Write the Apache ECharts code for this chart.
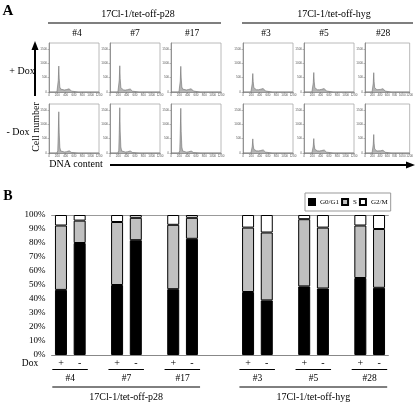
<!DOCTYPE html>
<html><head><meta charset="utf-8">
<script src="https://cdn.jsdelivr.net/npm/echarts@6/dist/echarts.min.js"></script>
<style>html,body{margin:0;padding:0;background:#fff}#c{width:416px;height:403px}</style>
</head><body><div id="c"></div>
<script>
// ---------- Data ----------
const groups = ['17Cl-1/tet-off-p28', '17Cl-1/tet-off-hyg'];
const clones = ['#4', '#7', '#17', '#3', '#5', '#28'];
const doxLabels = ['+', '-'];
const phases = ['G0/G1', 'S', 'G2/M'];
// per bar: order #4+, #4-, #7+, #7-, ... (percent)
const g0g1 = [46.5, 80, 50, 82, 47, 83, 45, 39, 49, 47.5, 55, 48];
const sPhase = [46, 16, 45, 16, 46, 15, 46, 48.5, 48, 43.5, 37.5, 42];
const g2m = [7.5, 4, 5, 2, 7, 2, 9, 12.5, 3, 9, 7.5, 10];
const yTicksB = [0, 10, 20, 30, 40, 50, 60, 70, 80, 90, 100];

// DNA content histograms (channel vs cell count)
const channel = [0, 190, 210, 222, 235, 245, 260, 280, 320, 370, 420, 445, 465, 485, 510, 540, 580, 700, 1200];
const plus4  = [0, 0, 60, 400, 900, 480, 170, 100, 75, 70, 85, 120, 130, 110, 70, 30, 8, 0, 0];
const plus7  = [0, 0, 55, 420, 910, 470, 160, 95, 72, 68, 82, 115, 125, 105, 65, 28, 6, 0, 0];
const plus17 = [0, 0, 50, 380, 890, 490, 175, 100, 78, 72, 88, 122, 128, 112, 72, 32, 9, 0, 0];
const plus3  = [0, 0, 45, 300, 640, 360, 150, 100, 82, 78, 95, 130, 135, 120, 80, 35, 10, 0, 0];
const plus5  = [0, 0, 50, 320, 675, 370, 150, 100, 80, 76, 92, 128, 138, 118, 78, 34, 10, 0, 0];
const plus28 = [0, 0, 48, 310, 670, 365, 148, 98, 80, 75, 90, 125, 132, 115, 75, 32, 9, 0, 0];
const minus4  = [0, 0, 80, 650, 1430, 700, 200, 70, 40, 35, 45, 70, 85, 75, 45, 20, 5, 0, 0];
const minus7  = [0, 0, 90, 700, 1570, 760, 210, 72, 38, 32, 42, 68, 82, 72, 42, 18, 5, 0, 0];
const minus17 = [0, 0, 85, 690, 1550, 740, 205, 70, 36, 30, 40, 62, 75, 68, 40, 16, 4, 0, 0];
const minus3  = [0, 0, 40, 230, 490, 280, 130, 90, 75, 72, 85, 115, 125, 108, 70, 30, 8, 0, 0];
const minus5  = [0, 0, 40, 240, 500, 285, 130, 90, 74, 70, 84, 112, 120, 105, 68, 30, 8, 0, 0];
const minus28 = [0, 0, 45, 300, 640, 340, 140, 88, 70, 66, 78, 102, 110, 98, 62, 26, 7, 0, 0];
const histX = [0, 200, 400, 600, 800, 1000, 1200];
const histY = [0, 500, 1000, 1500];

// ---------- Build ----------
const FONT = '"Liberation Serif", "Times New Roman", serif';
const chart = echarts.init(document.getElementById('c'), null, {renderer: 'canvas'});

// bar slots with gaps between clones and groups
const slots = [], slotBar = [];
let bi = 0;
clones.forEach((c, ci) => {
  doxLabels.forEach(d => { slots.push(d); slotBar.push(bi++); });
  if (ci < clones.length - 1) { slots.push(''); slotBar.push(-1); }
  if (ci === 2) { slots.push(' '); slotBar.push(-1); }
});
const mk = arr => slotBar.map(b => b < 0 ? '-' : arr[b]);

const grids = [{left: 51.6, top: 215, width: 336.8, height: 140}];
const xAxes = [
  {gridIndex: 0, type: 'category', data: slots, position: 'bottom',
   axisLine: {lineStyle: {color: '#888', width: 1}}, axisTick: {show: false},
   axisLabel: {interval: 0, fontFamily: FONT, fontSize: 10, color: '#000', margin: 3}},
  {gridIndex: 0, type: 'category', data: slots, position: 'top',
   axisLine: {lineStyle: {color: '#999', width: 1}}, axisTick: {show: false}, axisLabel: {show: false}}
];
const yAxes = [
  {gridIndex: 0, type: 'value', min: yTicksB[0], max: yTicksB[yTicksB.length - 1], interval: 10,
   axisLine: {show: false}, axisTick: {show: false}, splitLine: {show: false},
   axisLabel: {formatter: '{value}%', fontFamily: FONT, fontSize: 9, color: '#000', margin: 6}}
];
const series = [
  {name: phases[0], type: 'bar', stack: 'p', data: mk(g0g1), barWidth: 12, xAxisIndex: 0, yAxisIndex: 0,
   itemStyle: {color: '#000', borderColor: '#000', borderWidth: 1}},
  {name: phases[1], type: 'bar', stack: 'p', data: mk(sPhase), barWidth: 12, xAxisIndex: 0, yAxisIndex: 0,
   itemStyle: {color: '#c0c0c0', borderColor: '#000', borderWidth: 1}},
  {name: phases[2], type: 'bar', stack: 'p', data: mk(g2m), barWidth: 12, xAxisIndex: 0, yAxisIndex: 0,
   itemStyle: {color: '#fff', borderColor: '#000', borderWidth: 1}}
];

const histRows = [[plus4, plus7, plus17, plus3, plus5, plus28], [minus4, minus7, minus17, minus3, minus5, minus28]];
const colLeft = [49, 110, 171, 243, 304, 365];
const rowTop = [43, 104];
const plain = v => String(v);
histRows.forEach((row, r) => {
  row.forEach((vals, c) => {
    const gi = grids.length, xi = xAxes.length, yi = yAxes.length;
    grids.push({left: colLeft[c], top: rowTop[r], width: 50, height: 49, show: true,
      borderColor: '#a8a8a8', borderWidth: 0.8, backgroundColor: '#fff'});
    xAxes.push({gridIndex: gi, type: 'value', min: histX[0], max: histX[histX.length - 1], interval: 200,
      axisLine: {lineStyle: {color: '#808080', width: 0.8}}, splitLine: {show: false},
      axisTick: {length: 1.5, lineStyle: {color: '#777', width: 0.5}},
      axisLabel: {fontSize: 3, color: '#555', margin: 2, fontFamily: 'Liberation Sans', formatter: plain}});
    yAxes.push({gridIndex: gi, type: 'value', min: 0, max: 1700, interval: 500,
      axisLine: {show: true, lineStyle: {color: '#808080', width: 0.8}}, splitLine: {show: false},
      axisTick: {show: true, length: 1.5, lineStyle: {color: '#777', width: 0.5}},
      axisLabel: {fontSize: 3, color: '#555', margin: 2, fontFamily: 'Liberation Sans', formatter: plain,
        showMaxLabel: false}});
    series.push({type: 'line', xAxisIndex: xi, yAxisIndex: yi, symbol: 'none', animation: false,
      data: channel.map((x, i) => [x, vals[i]]),
      lineStyle: {color: '#6e6e6e', width: 0.6}, areaStyle: {color: '#b4b4b4', opacity: 1}});
  });
});

chart.setOption({
  animation: false,
  backgroundColor: '#fff',
  grid: grids, xAxis: xAxes, yAxis: yAxes, series: series,
  legend: {data: phases, left: 305, top: 193, orient: 'horizontal',
    borderColor: '#999', borderWidth: 1, padding: [5, 3], itemWidth: 6, itemHeight: 6, itemGap: 2,
    icon: 'rect', textStyle: {fontFamily: FONT, fontSize: 7, color: '#000'}}
});

// ---------- Annotations ----------
const T = (text, x, y, size, weight) => ({type: 'text', x: x, y: y, silent: true,
  style: {text: text, fontFamily: FONT, fontSize: size, fontWeight: weight || 'normal', fill: '#000', align: 'center', verticalAlign: 'middle'}});
const L = (x1, y1, x2, y2, w, col) => ({type: 'line', silent: true,
  shape: {x1: x1, y1: y1, x2: x2, y2: y2}, style: {stroke: col || '#000', lineWidth: w || 1}});
const g = [];
// panel A
g.push(T('A', 8, 11, 15, 'bold'));
g.push(T(groups[0], 138, 14, 10));
g.push(T(groups[1], 334, 14, 10));
g.push(L(48, 23, 221, 23, 1.2));
g.push(L(242, 23, 413, 23, 1.2));
const cloneX = [77, 135, 192, 266, 324, 383];
clones.forEach((c, i) => g.push(T(c, cloneX[i], 33, 9.5)));
g.push(T('+ Dox', 22, 71, 10));
g.push(T('- Dox', 18, 132, 10));
g.push(L(35, 96, 35, 48, 2));
g.push({type: 'polygon', silent: true, shape: {points: [[31.5, 50], [38.5, 50], [35, 41]]}, style: {fill: '#000'}});
g.push({type: 'text', x: 36, y: 127, rotation: Math.PI / 2, silent: true,
  style: {text: 'Cell number', fontFamily: FONT, fontSize: 10, fill: '#000', align: 'center', verticalAlign: 'middle'}});
g.push(T('DNA content', 76, 164, 10));
g.push(L(110, 165, 408, 165, 2));
g.push({type: 'polygon', silent: true, shape: {points: [[406, 161.5], [406, 168.5], [415, 165]]}, style: {fill: '#000'}});
// panel B
g.push(T('B', 8, 196, 14, 'bold'));
g.push(T('Dox', 30, 363, 9.5));
const slotPx = i => chart.convertToPixel({xAxisIndex: 0}, i);
const pairCenters = [];
slotBar.forEach((b, si) => { if (b >= 0 && b % 2 === 0) pairCenters.push((slotPx(si) + slotPx(si + 1)) / 2); });
clones.forEach((c, i) => {
  const cx = pairCenters[i];
  g.push(L(cx - 18, 369.5, cx + 17.5, 369.5, 1));
  g.push(T(c, cx, 378, 9.5));
});
[[0, 2], [3, 5]].forEach((rng, gi) => {
  const a = pairCenters[rng[0]] - 18, b = pairCenters[rng[1]] + 17.5;
  g.push(L(a, 387, b, 387, 1));
  g.push(T(groups[gi], (a + b) / 2, 397, 10));
});
chart.setOption({graphic: g});
</script></body></html>
